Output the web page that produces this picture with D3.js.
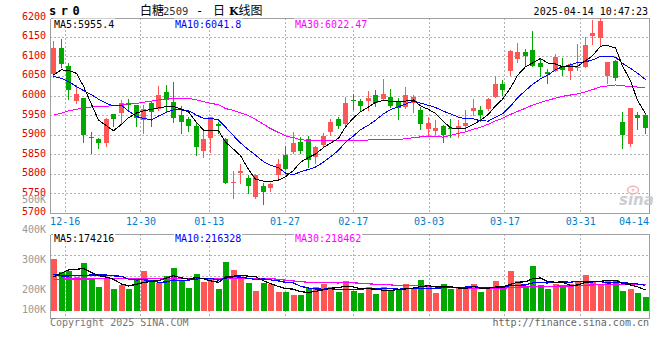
<!DOCTYPE html>
<html><head><meta charset="utf-8">
<script src="https://cdn.jsdelivr.net/npm/d3@7/dist/d3.min.js"></script>
<style>body{margin:0;background:#fff}svg{display:block}</style>
</head><body><svg id="c" width="660" height="360"></svg>
<script>
// ---------------- data ----------------
const dates = ["12-12","12-13","12-16","12-17","12-18","12-19","12-20","12-23","12-24","12-25",
"12-26","12-27","12-30","12-31","01-02","01-03","01-06","01-07","01-08","01-09",
"01-10","01-13","01-14","01-15","01-16","01-17","01-20","01-21","01-22","01-23",
"01-24","01-27","02-05","02-06","02-07","02-10","02-11","02-12","02-13","02-14",
"02-17","02-18","02-19","02-20","02-21","02-24","02-25","02-26","02-27","02-28",
"03-03","03-04","03-05","03-06","03-07","03-10","03-11","03-12","03-13","03-14",
"03-17","03-18","03-19","03-20","03-21","03-24","03-25","03-26","03-27","03-28",
"03-31","04-01","04-02","04-03","04-07","04-08","04-09","04-10","04-11","04-14"];
const open = [6056,6124,6078,5988,5995,5895,5890,5881,5953,5957,
5981,5976,5939,5981,5966,6010,5985,5951,5941,5922,
5860,5893,5928,5889,5778,5804,5790,5741,5771,5764,
5798,5849,5856,5882,5890,5845,5875,5908,5940,5929,
5990,5987,5986,6002,5992,5997,5987,5971,5981,5964,
5916,5911,5923,5917,5917,5922,5962,5964,5966,5998,
6030,6065,6095,6112,6118,6084,6061,6065,6073,6065,
6071,6075,6154,6148,6051,6090,5934,5877,5952,5952];
const high = [6140,6145,6084,6027,5996,5907,5893,5943,5954,5990,
5992,5978,5977,5986,6026,6028,6036,5974,5947,5930,
5913,5947,5934,5892,5807,5826,5798,5801,5777,5778,
5838,5871,5907,5894,5898,5871,5905,5942,5946,5998,
6005,5993,6014,6015,6044,6018,5994,6022,6003,5971,
5947,5939,5925,5940,5939,5964,5992,5975,5994,6051,
6041,6118,6135,6119,6166,6094,6068,6107,6096,6085,
6132,6152,6195,6199,6088,6092,5958,5970,5958,5953];
const low = [6048,6075,5992,5981,5882,5855,5868,5873,5922,5928,
5964,5922,5906,5922,5964,5960,5934,5905,5911,5849,
5845,5858,5905,5778,5740,5777,5751,5740,5723,5758,
5790,5814,5854,5855,5819,5828,5869,5900,5917,5923,
5966,5963,5963,5975,5992,5971,5940,5970,5958,5916,
5901,5904,5883,5896,5894,5913,5952,5937,5963,5997,
6003,6053,6088,6079,6077,6050,6033,6064,6054,6043,
6067,6074,6133,6131,6033,6041,5866,5873,5915,5906];
const close = [6124,6082,6015,6005,5899,5893,5881,5941,5942,5981,
5976,5943,5968,5960,6002,5991,5945,5934,5923,5870,
5891,5947,5924,5778,5780,5808,5771,5798,5755,5775,
5826,5814,5879,5859,5836,5869,5898,5934,5922,5981,
5986,5975,5994,5983,6005,5975,5970,6002,5998,5929,
5930,5919,5899,5915,5922,5932,5969,5952,5992,6030,
6015,6114,6112,6103,6078,6073,6056,6099,6067,6081,
6074,6131,6160,6192,6086,6047,5900,5969,5943,5917];
const volume = [303300,260000,262300,242300,290000,236700,210000,235700,203300,215700,
203300,236700,264300,226700,224300,247700,273300,229000,206700,251700,
226700,240000,203300,293300,266700,243300,223300,196700,223300,220000,
193300,193300,183300,183300,205700,210000,220000,210000,193300,230000,
197700,190000,210000,186700,210000,196700,203300,220000,203300,233300,
210000,190000,220000,203300,210000,203300,220000,193300,203300,230000,
203300,263300,230000,210000,280000,216700,203300,220000,213300,220000,
226700,250000,230000,220000,230000,233300,196700,203300,190000,176700];
// moving-average values for days before enough history is shown
const ma5Lead = [6054,6067,6065,6058];
const ma10Lead = [6050,6045,6037,6024,6014,6003,5992,5981,5975];
const ma30Lead = [5951,5956,5962,5966,5970,5972,5974,5974,5975,5977,5980,5981,5984,5987,5990,
5992,5994,5994,5994,5990,5986,5981,5978,5968,5963,5957,5950,5940,5928];
const vma5Lead = [244000,256000,267000,269000];
const vma10Lead = [252000,247000,247000,248000,249000,250000,250000,250000,247000];
const vma30Lead = [236000,236000,237000,237000,237000,237000,238000,238000,238000,238000,
239000,239000,239000,239000,239000,239000,239000,239000,239000,239000,
239000,239000,239000,239000,239000,239000,239000,239000,239000];
const priceTicks = [6200,6150,6100,6050,6000,5950,5900,5850,5800,5750,5700];
const volTicks = [500000,400000,300000,200000,100000];
const volTickLabels = ["500K","400K","300K","200K","100K"];
const dateTicks = ["12-16","12-30","01-13","01-27","02-17","03-03","03-17","03-31","04-14"];
const maNames = ["MA5","MA10","MA30"];
const priceLegendValues = ["5955.4","6041.8","6022.47"];
const volLegendValues = ["174216","216328","218462"];
const title = {code:"sr0", name:"白糖", contract:"2509", sep:"-", kind1:"日", kind2:"K", kind3:"线图"};
const timestamp = "2025-04-14 10:47:23";

// ---------------- styles ----------------
const RED = "#ff5555", GREEN = "#00a800";
const MA_COLORS = ["#000000","#0000ff","#ff00ff"];
const GRID = "#b0b0b0", FRAME = "#a0a0a0";
const MONO = "'DejaVu Sans Mono', 'Liberation Mono', monospace";
const CJK = "'Noto Sans CJK SC', sans-serif";

const L = 50, R = 649, MT = 17.8, MB = 213.3, VT = 234, VB = 318, VBASE = 311;

const svg = d3.select("#c");
const n = dates.length;
const x = d3.scaleBand().domain(dates).range([L, R]).paddingInner(0.25).paddingOuter(0.125);
const xg = d3.scalePoint().domain(dates).range([L, R]);
const y = d3.scaleLinear().domain([5700, 6200]).range([MB, MT]);
const yv = d3.scaleLinear().domain([100000, 400000]).range([320, 230]);
const cx = i => Math.round(x(dates[i]) + x.bandwidth() / 2 - 0.5);
const px = v => Math.round(v - 0.5) + 0.5;

function movingAvg(vals, k, lead) {
  return vals.map((v, i) => i < k - 1 ? lead[i] : d3.mean(vals.slice(i - k + 1, i + 1)));
}

// ---------------- grid ----------------
const g = svg.append("g");
// horizontal dotted price grid
g.selectAll("line.hp").data(priceTicks.slice(1, -1)).join("line")
  .attr("x1", L).attr("x2", R).attr("y1", d => px(y(d))).attr("y2", d => px(y(d)))
  .attr("stroke", GRID).attr("stroke-dasharray", "2,2").attr("shape-rendering", "crispEdges");
// vertical dotted date grid (main + volume)
const vgDates = dateTicks.filter(d => xg(d) < R - 1);
g.selectAll("line.vp").data(vgDates).join("line")
  .attr("x1", d => px(xg(d))).attr("x2", d => px(xg(d))).attr("y1", MT).attr("y2", MB)
  .attr("stroke", GRID).attr("stroke-dasharray", "2,2").attr("shape-rendering", "crispEdges");
g.selectAll("line.vv").data(vgDates).join("line")
  .attr("x1", d => px(xg(d))).attr("x2", d => px(xg(d))).attr("y1", VT).attr("y2", VB)
  .attr("stroke", GRID).attr("stroke-dasharray", "2,2").attr("shape-rendering", "crispEdges");
// volume horizontal grid (panel quarters)
[1, 2].forEach(k => {
  const yy = px(VT + (VB - VT) * k / 4);
  g.append("line").attr("x1", L).attr("x2", R).attr("y1", yy).attr("y2", yy)
    .attr("stroke", GRID).attr("stroke-dasharray", "2,2").attr("shape-rendering", "crispEdges");
});

// ---------------- frames ----------------
function frame(top, bottom) {
  const f = svg.append("g").attr("stroke", FRAME).attr("shape-rendering", "crispEdges");
  f.append("line").attr("x1", L + 0.5).attr("x2", R + 0.5).attr("y1", px(top)).attr("y2", px(top));
  f.append("line").attr("x1", L + 0.5).attr("x2", L + 0.5).attr("y1", px(top)).attr("y2", px(bottom));
  f.append("line").attr("x1", R + 0.5).attr("x2", R + 0.5).attr("y1", px(top)).attr("y2", px(bottom));
  f.append("line").attr("x1", L + 0.5).attr("x2", R + 0.5).attr("y1", px(bottom)).attr("y2", px(bottom));
}
frame(MT + 0.5, MB + 0.2);
frame(VT, VB);

// ---------------- candles ----------------
const cg = svg.append("g").attr("shape-rendering", "crispEdges");
d3.range(n).forEach(i => {
  const up = close[i] >= open[i];
  const col = up ? RED : GREEN;
  const c = cx(i);
  cg.append("line").attr("x1", c + 0.5).attr("x2", c + 0.5)
    .attr("y1", Math.round(y(high[i]))).attr("y2", Math.round(y(low[i])) + 1).attr("stroke", col);
  const top = Math.round(y(Math.max(open[i], close[i])));
  const bot = Math.round(y(Math.min(open[i], close[i])));
  cg.append("rect").attr("x", c - 2).attr("width", 5)
    .attr("y", top).attr("height", Math.max(1, bot - top)).attr("fill", col);
});

// ---------------- volume bars ----------------
const vg = svg.append("g").attr("shape-rendering", "crispEdges");
d3.range(n).forEach(i => {
  const col = close[i] >= open[i] ? RED : GREEN;
  const top = Math.round(yv(volume[i]));
  vg.append("rect").attr("x", cx(i) - 2).attr("width", 6)
    .attr("y", top).attr("height", VBASE - top).attr("fill", col);
});

// ---------------- MA lines ----------------
const priceMAs = [movingAvg(close, 5, ma5Lead), movingAvg(close, 10, ma10Lead), movingAvg(close, 30, ma30Lead)];
const volMAs = [movingAvg(volume, 5, vma5Lead), movingAvg(volume, 10, vma10Lead), movingAvg(volume, 30, vma30Lead)];
const lineP = d3.line().x((d, i) => cx(i) + 0.5).y(d => y(d));
const lineV = d3.line().x((d, i) => cx(i) + 0.5).y(d => yv(d));
[2, 1, 0].forEach(k => {
  svg.append("path").attr("d", lineP(priceMAs[k])).attr("fill", "none")
    .attr("stroke", MA_COLORS[k]).attr("stroke-width", 1).attr("shape-rendering", "crispEdges");
  svg.append("path").attr("d", lineV(volMAs[k])).attr("fill", "none")
    .attr("stroke", MA_COLORS[k]).attr("stroke-width", 1.2).attr("shape-rendering", "crispEdges");
});

// ---------------- legends ----------------
function legend(values, baseline) {
  const xs = [54, 175, 295];
  values.forEach((v, k) => {
    const t = svg.append("text").attr("x", xs[k]).attr("y", baseline)
      .attr("font-family", MONO).attr("font-size", 10).attr("fill", MA_COLORS[k])
      .text(maNames[k] + ":" + v);
    const b = t.node().getBBox();
    svg.insert("rect", () => t.node()).attr("x", b.x - 1).attr("y", b.y)
      .attr("width", b.width + 2).attr("height", b.height).attr("fill", "#fff");
  });
}
legend(priceLegendValues, 27.5);
legend(volLegendValues, 241.5);

// ---------------- axes labels ----------------
svg.append("g").selectAll("text").data(priceTicks).join("text")
  .attr("x", 46).attr("y", d => y(d) + 2).attr("text-anchor", "end")
  .attr("font-family", MONO).attr("font-size", 10).attr("fill", "#dd0000").text(d => d);
svg.append("g").selectAll("text").data(volTicks).join("text")
  .attr("x", 46).attr("y", d => Math.min(yv(d) + 3.3, 313.3)).attr("text-anchor", "end")
  .attr("font-family", MONO).attr("font-size", 10).attr("fill", "#999")
  .text((d, i) => volTickLabels[i]);
svg.append("g").selectAll("text").data(dateTicks).join("text")
  .attr("x", d => Math.min(xg(d), R - 15)).attr("y", 225).attr("text-anchor", "middle")
  .attr("font-family", MONO).attr("font-size", 10).attr("fill", "#0080cc").text(d => d);

// ---------------- header ----------------
svg.append("text").attr("x", 49).attr("y", 15).attr("font-family", MONO).attr("font-weight", "bold")
  .attr("font-size", 12).attr("letter-spacing", 4.5).attr("fill", "#000").text(title.code);
const tt = svg.append("text").attr("y", 15).attr("font-size", 12).attr("fill", "#000").attr("font-family", CJK);
tt.append("tspan").attr("x", 140).text(title.name);
tt.append("tspan").attr("x", 163).attr("font-family", MONO).attr("font-size", 10.5).attr("fill", "#333").text(title.contract);
tt.append("tspan").attr("x", 196).attr("font-family", MONO).text(title.sep);
tt.append("tspan").attr("x", 213).text(title.kind1);
tt.append("tspan").attr("x", 229).attr("font-weight", "bold").attr("font-family", "'DejaVu Serif', serif").attr("font-size", 11).text(title.kind2);
tt.append("tspan").attr("x", 238.5).text(title.kind3);
svg.append("text").attr("x", 648).attr("y", 15).attr("text-anchor", "end")
  .attr("font-family", MONO).attr("font-size", 10).attr("fill", "#000").text(timestamp);

// ---------------- footer ----------------
svg.append("text").attr("x", 50).attr("y", 326).attr("font-family", MONO).attr("font-size", 10)
  .attr("fill", "#777").text("Copyright 2025 SINA.COM");
svg.append("text").attr("x", 649).attr("y", 326).attr("text-anchor", "end").attr("font-family", MONO)
  .attr("font-size", 10).attr("fill", "#666").text("http://finance.sina.com.cn");

// ---------------- watermark ----------------
const wm = svg.append("g").attr("opacity", 0.9);
wm.append("ellipse").attr("cx", 633).attr("cy", 190).attr("rx", 5.5).attr("ry", 3.8)
  .attr("fill", "none").attr("stroke", "#f2b0b0").attr("stroke-width", 1.6);
wm.append("circle").attr("cx", 633).attr("cy", 190).attr("r", 1.5).attr("fill", "#e8c0c0");
wm.append("text").attr("x", 619).attr("y", 204.5).attr("font-family", "'DejaVu Sans', sans-serif")
  .attr("font-style", "italic").attr("font-weight", "bold").attr("font-size", 15)
  .attr("fill", "#c8c8c8").text("sina");
</script></body></html>
